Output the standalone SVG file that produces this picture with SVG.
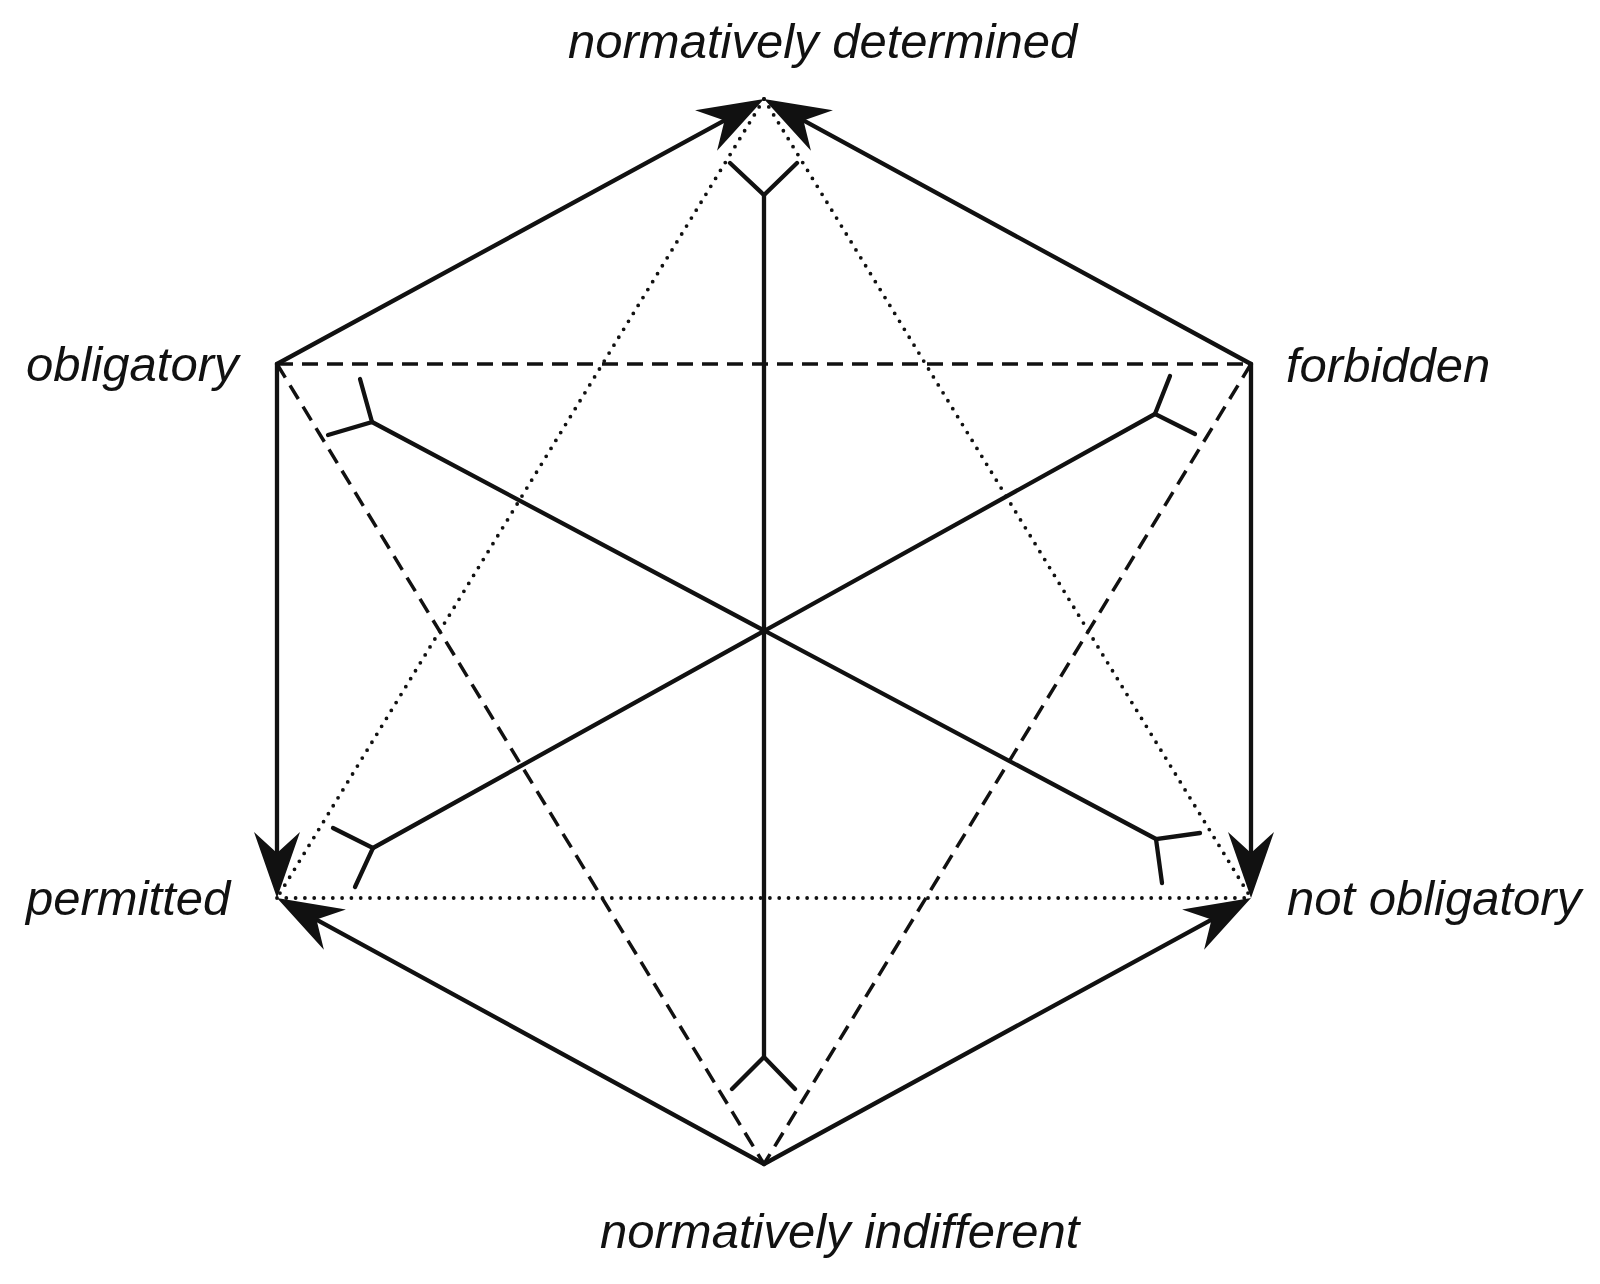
<svg xmlns="http://www.w3.org/2000/svg" width="1600" height="1284" viewBox="0 0 1600 1284">
<style>
.lbl{font-family:"Liberation Sans",Arial,sans-serif;font-style:italic;font-size:49px;fill:#111}
.solid{stroke:#111;stroke-width:4.3;fill:none;stroke-linecap:round}
.arrow{stroke:#111;stroke-width:4.3;fill:none;stroke-linecap:round;marker-end:url(#ah)}
.dash{stroke:#111;stroke-width:3.5;fill:none;stroke-dasharray:16 9}
.dot{stroke:#111;stroke-width:3.8;fill:none;stroke-dasharray:0 9.3;stroke-linecap:round}
</style>
<defs>
<marker id="ah" markerUnits="userSpaceOnUse" viewBox="-70 -26 74 52" markerWidth="74" markerHeight="52" refX="-35" refY="0" orient="auto">
<path d="M0,0 L-66,-23 L-45,0 L-66,23 Z" fill="#111"/>
</marker>
</defs>
<rect width="1600" height="1284" fill="#fff"/>
<g id="connectors">
<g id="dotted-triangle">
<line class="dot" x1="764" y1="99" x2="277" y2="898"/>
<line class="dot" x1="764" y1="99" x2="1251" y2="898"/>
<line class="dot" x1="277" y1="898" x2="1251" y2="898"/>
</g>
<g id="dashed-triangle">
<line class="dash" x1="277" y1="364" x2="1251" y2="364"/>
<line class="dash" x1="277" y1="364" x2="764" y2="1164"/>
<line class="dash" x1="1251" y1="364" x2="764" y2="1164"/>
</g>
<g id="contradictions">
<polyline class="solid" points="730,163 764,195 797,163"/>
<line class="solid" x1="764" y1="195" x2="764" y2="1057"/>
<polyline class="solid" points="732,1089 764,1057 795,1089"/>
<polyline class="solid" points="360,379 372,422 328,435"/>
<line class="solid" x1="372" y1="422" x2="1156" y2="839"/>
<polyline class="solid" points="1200,833 1156,839 1162,883"/>
<polyline class="solid" points="333,828 373,848 355,887"/>
<line class="solid" x1="373" y1="848" x2="1155" y2="414"/>
<polyline class="solid" points="1195,434 1155,414 1170,376"/>
</g>
<g id="arrows">
<line class="arrow" x1="277" y1="364" x2="733.3" y2="115.7"/>
<line class="arrow" x1="1251" y1="364" x2="794.7" y2="115.7"/>
<line class="arrow" x1="277" y1="364" x2="277" y2="863"/>
<line class="arrow" x1="1251" y1="364" x2="1251" y2="863"/>
<line class="arrow" x1="764" y1="1164" x2="307.7" y2="914.8"/>
<line class="arrow" x1="764" y1="1164" x2="1220.3" y2="914.8"/>
</g>
</g>
<g id="node-normatively-determined"><text class="lbl" x="568" y="58">normatively determined</text></g>
<g id="node-obligatory"><text class="lbl" x="26" y="381">obligatory</text></g>
<g id="node-forbidden"><text class="lbl" x="1286" y="382">forbidden</text></g>
<g id="node-permitted"><text class="lbl" x="26" y="915">permitted</text></g>
<g id="node-not-obligatory"><text class="lbl" x="1287" y="915">not obligatory</text></g>
<g id="node-normatively-indifferent"><text class="lbl" x="600" y="1248">normatively indifferent</text></g>
</svg>
